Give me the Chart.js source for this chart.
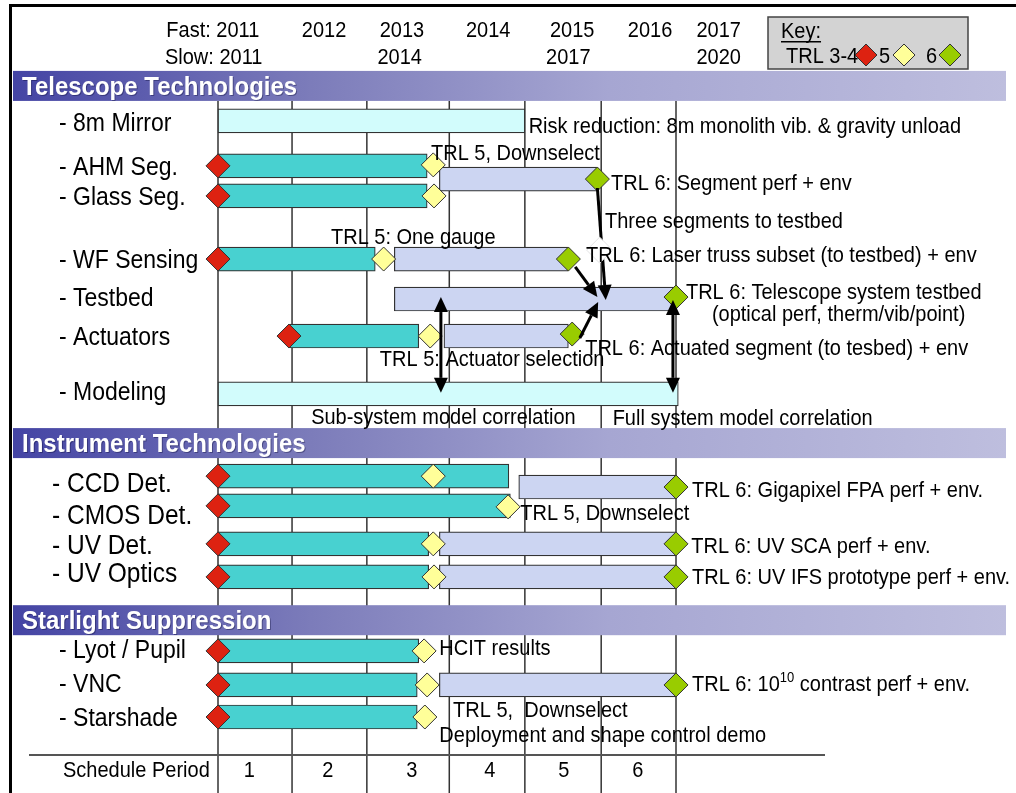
<!DOCTYPE html>
<html><head><meta charset="utf-8">
<script src="https://cdn.jsdelivr.net/npm/chart.js@4.4.1/dist/chart.umd.min.js"></script>
<style>html,body{margin:0;padding:0;background:#fff}canvas{display:block}</style>
</head><body>
<canvas id="c" width="1016" height="793"></canvas>
<script>
const FONT = '"Liberation Sans", Arial, Helvetica, sans-serif';

// ---------- data ----------
const sections = ['Telescope Technologies', 'Instrument Technologies', 'Starlight Suppression'];
const sectionRows = [2.60, 13.41, 18.77];

const taskLabels = ['- 8m Mirror', '- AHM Seg.', '- Glass Seg.', '- WF Sensing', '- Testbed', '- Actuators', '- Modeling',
  '- CCD Det.', '- CMOS Det.', '- UV Det.', '- UV Optics',
  '- Lyot / Pupil', '- VNC', '- Starshade'];
const taskSection = [0, 0, 0, 0, 0, 0, 0, 1, 1, 1, 1, 2, 2, 2];
const taskLabelRows = [3.72, 5.05, 5.96, 7.84, 8.99, 10.17, 11.86, 14.62, 15.59, 16.49, 17.34, 19.67, 20.70, 21.73];

const gridPeriods = [0, 0.97, 1.95, 3.03, 4.02, 5.02, 6.0];
const periodLabels = ['1', '2', '3', '4', '5', '6'];
const periodLabelPos = [0.41, 1.44, 2.54, 3.56, 4.53, 5.50];
const fastYears = ['2011', '2012', '2013', '2014', '2015', '2016', '2017'];
const fastYearPos = [0.26, 1.39, 2.41, 3.54, 4.64, 5.66, 6.56];
const slowYears = ['2011', '2014', '2017', '2020'];
const slowYearPos = [0.30, 2.38, 4.59, 6.56];

// development bars (TRL 3-4 -> 5)
const devBars = [
  {y: 5.02, from: 0, to: 2.74}, {y: 5.93, from: 0, to: 2.74}, {y: 7.84, from: 0, to: 2.06},
  {y: 10.17, from: 0.94, to: 2.63}, {y: 14.41, from: 0, to: 3.81}, {y: 15.31, from: 0, to: 3.83},
  {y: 16.46, from: 0, to: 2.76}, {y: 17.46, from: 0, to: 2.76}, {y: 19.70, from: 0, to: 2.63},
  {y: 20.73, from: 0, to: 2.61}, {y: 21.70, from: 0, to: 2.61}
];
// qualification bars (TRL 5 -> 6)
const qualBars = [
  {y: 5.42, from: 2.90, to: 4.97}, {y: 7.84, from: 2.31, to: 4.59}, {y: 9.05, from: 2.31, to: 5.99},
  {y: 10.17, from: 2.96, to: 4.59}, {y: 14.74, from: 3.94, to: 6.0}, {y: 16.46, from: 2.90, to: 6.0},
  {y: 17.46, from: 2.90, to: 6.0}, {y: 20.73, from: 2.90, to: 6.0}
];
// other activities
const otherBars = [
  {y: 3.66, from: 0, to: 4.02}, {y: 11.92, from: 0, to: 6.03}
];
// milestones
const trl34Points = [
  {x: 0, y: 5.02}, {x: 0, y: 5.93}, {x: 0, y: 7.84}, {x: 0.93, y: 10.17}, {x: 0, y: 14.41}, {x: 0, y: 15.31},
  {x: 0, y: 16.46}, {x: 0, y: 17.46}, {x: 0, y: 19.70}, {x: 0, y: 20.73}, {x: 0, y: 21.70}
];
const trl5Points = [
  {x: 2.82, y: 4.99}, {x: 2.83, y: 5.93}, {x: 2.17, y: 7.84}, {x: 2.78, y: 10.17}, {x: 2.82, y: 14.41},
  {x: 3.80, y: 15.34}, {x: 2.82, y: 16.46}, {x: 2.83, y: 17.46}, {x: 2.70, y: 19.70}, {x: 2.74, y: 20.73},
  {x: 2.71, y: 21.70}
];
const trl6Points = [
  {x: 4.97, y: 5.42}, {x: 4.59, y: 7.84}, {x: 6.0, y: 8.99}, {x: 4.64, y: 10.11}, {x: 6.0, y: 14.74},
  {x: 6.0, y: 16.46}, {x: 6.0, y: 17.46}, {x: 6.0, y: 20.73}
];

// annotations: text, x (period units), y (row units)
const notes = [
  ['Risk reduction: 8m monolith vib. & gravity unload', 4.07, 3.81],
  ['TRL 5, Downselect', 2.79, 4.60],
  ['TRL 6: Segment perf + env', 5.15, 5.51],
  ['Three segments to testbed', 5.07, 6.66],
  ['TRL 5: One gauge', 1.48, 7.17],
  ['TRL 6: Laser truss subset (to testbed) + env', 4.82, 7.69],
  ['TRL 6: Telescope system testbed', 6.13, 8.81],
  ['(optical perf, therm/vib/point)', 6.47, 9.50],
  ['TRL 5: Actuator selection', 2.12, 10.84],
  ['TRL 6: Actuated segment (to tesbed) + env', 4.81, 10.50],
  ['Sub-system model correlation', 1.22, 12.59],
  ['Full system model correlation', 5.17, 12.62],
  ['TRL 6: Gigapixel FPA perf + env.', 6.21, 14.80],
  ['TRL 5, Downselect', 3.96, 15.50],
  ['TRL 6: UV SCA perf + env.', 6.20, 16.50],
  ['TRL 6: UV IFS prototype perf + env.', 6.21, 17.46],
  ['HCIT results', 2.90, 19.58],
  ['TRL 6: 10|10| contrast perf + env.', 6.21, 20.67],
  ['TRL 5,  Downselect', 3.08, 21.46],
  ['Deployment and shape control demo', 2.90, 22.22]
];
// arrows: from, to (period units, row units), double-headed?
const arrows = [
  {from: [4.97, 5.69], to: [5.08, 9.08], both: false},
  {from: [4.68, 8.08], to: [4.97, 8.99], both: false},
  {from: [4.74, 10.23], to: [4.98, 9.14], both: false},
  {from: [2.92, 8.99], to: [2.92, 11.89], both: true},
  {from: [5.96, 9.08], to: [5.96, 11.89], both: true}
];
const periodAxisRow = 22.85;
const periodLabelRow = 23.30;

const COLORS = {dev: '#48d1d0', qual: '#ccd5f2', other: '#d2fcfc', trl34: '#dd2211', trl5: '#ffff99', trl6: '#99cc00', edge: '#333'};

// ---------- build datasets ----------
const barData = [], barColors = [];
[[devBars, COLORS.dev], [qualBars, COLORS.qual], [otherBars, COLORS.other]].forEach(([arr, col]) => {
  arr.forEach(b => { barData.push({x: [b.from, b.to], y: b.y}); barColors.push(col); });
});

const TEXT_DY = 1.5, TEXT_SY = 1.1;
function txt(ctx, t, x, y) {
  ctx.save();
  ctx.translate(x, y + TEXT_DY);
  ctx.scale(1, TEXT_SY);
  ctx.fillText(t, 0, 0);
  ctx.restore();
}
function diamond(ctx, x, y, r, fill) {
  ctx.beginPath();
  ctx.moveTo(x, y - r); ctx.lineTo(x + r, y); ctx.lineTo(x, y + r); ctx.lineTo(x - r, y); ctx.closePath();
  ctx.fillStyle = fill; ctx.fill();
  ctx.strokeStyle = COLORS.edge; ctx.lineWidth = 1; ctx.stroke();
}
function head(ctx, x1, y1, x2, y2) {
  const a = Math.atan2(y2 - y1, x2 - x1), L = 15, W = 7;
  const bx = x2 - L * Math.cos(a), by = y2 - L * Math.sin(a);
  ctx.beginPath();
  ctx.moveTo(x2, y2);
  ctx.lineTo(bx + W * Math.sin(a), by - W * Math.cos(a));
  ctx.lineTo(bx - W * Math.sin(a), by + W * Math.cos(a));
  ctx.closePath(); ctx.fill();
  return [bx, by];
}

const roadmap = {
  id: 'roadmap',
  beforeDraw(chart) {
    const ctx = chart.ctx;
    ctx.save(); ctx.fillStyle = '#fff'; ctx.fillRect(0, 0, chart.width, chart.height); ctx.restore();
  },
  beforeDatasetsDraw(chart) {
    const ctx = chart.ctx;
    const X = v => chart.scales.x.getPixelForValue(v), Y = v => chart.scales.y.getPixelForValue(v);
    ctx.save();
    // frame
    ctx.fillStyle = '#000';
    ctx.fillRect(9, 4, chart.width - 9, 3);
    ctx.fillRect(9, 4, 3, chart.height - 4);
    // gridlines
    ctx.strokeStyle = '#333'; ctx.lineWidth = 1.5;
    const gTop = Y(sectionRows[0]) + 15;
    gridPeriods.forEach(g => {
      const x = X(g);
      ctx.beginPath(); ctx.moveTo(x, gTop); ctx.lineTo(x, chart.height); ctx.stroke();
    });
    // section headers
    sections.forEach((s, i) => {
      const yc = Y(sectionRows[i]);
      const gr = ctx.createLinearGradient(13, 0, 1006, 0);
      gr.addColorStop(0, '#4444a4'); gr.addColorStop(0.3, '#7c7cba'); gr.addColorStop(0.6, '#a6a6d2'); gr.addColorStop(1, '#bebede');
      ctx.fillStyle = gr; ctx.fillRect(13, yc - 15, 993, 30);
      ctx.font = 'bold 24px ' + FONT; ctx.textBaseline = 'middle'; ctx.textAlign = 'left';
      ctx.fillStyle = 'rgba(0,0,40,0.35)'; txt(ctx, s, 23, yc + 1);
      ctx.fillStyle = '#fff'; txt(ctx, s, 22, yc);
    });
    // year header
    ctx.fillStyle = '#000'; ctx.font = '20px ' + FONT; ctx.textBaseline = 'middle';
    ctx.textAlign = 'center';
    fastYears.forEach((t, i) => txt(ctx, t, X(fastYearPos[i]), 29));
    slowYears.forEach((t, i) => txt(ctx, t, X(slowYearPos[i]), 56));
    ctx.textAlign = 'right';
    txt(ctx, 'Fast: ', X(fastYearPos[0]) - ctx.measureText(fastYears[0]).width / 2, 29);
    txt(ctx, 'Slow: ', X(slowYearPos[0]) - ctx.measureText(slowYears[0]).width / 2, 56);
    // key box
    ctx.fillStyle = '#d3d3d3'; ctx.fillRect(768, 17, 200, 52);
    ctx.strokeStyle = '#444'; ctx.lineWidth = 1.5; ctx.strokeRect(768, 17, 200, 52);
    ctx.fillStyle = '#000'; ctx.textAlign = 'left'; ctx.font = '20px ' + FONT;
    txt(ctx, 'Key:', 781, 30);
    ctx.fillRect(781, 41, ctx.measureText('Key:').width, 1.5);
    txt(ctx, 'TRL 3-4', 786, 55);
    txt(ctx, '5', 879, 55);
    txt(ctx, '6', 926, 55);
    diamond(ctx, 866, 55, 11, COLORS.trl34);
    diamond(ctx, 904, 55, 11, COLORS.trl5);
    diamond(ctx, 950, 55, 11, COLORS.trl6);
    // task labels
    ctx.fillStyle = '#000';
    const labelX = [59, 52, 59], labelSize = [23, 24.5, 23];
    taskLabels.forEach((t, i) => {
      const s = taskSection[i];
      ctx.font = labelSize[s] + 'px ' + FONT;
      txt(ctx, t, labelX[s], Y(taskLabelRows[i]));
    });
    // schedule period axis
    const ay = Y(periodAxisRow);
    ctx.strokeStyle = '#555'; ctx.lineWidth = 2;
    ctx.beginPath(); ctx.moveTo(29, ay); ctx.lineTo(825, ay); ctx.stroke();
    ctx.font = '20px ' + FONT; ctx.fillStyle = '#000';
    ctx.textAlign = 'left'; txt(ctx, 'Schedule Period', 63, Y(periodLabelRow));
    ctx.textAlign = 'center';
    periodLabels.forEach((t, i) => txt(ctx, t, X(periodLabelPos[i]), Y(periodLabelRow)));
    ctx.restore();
  },
  afterDatasetsDraw(chart) {
    const ctx = chart.ctx;
    const X = v => chart.scales.x.getPixelForValue(v), Y = v => chart.scales.y.getPixelForValue(v);
    ctx.save();
    // arrows
    ctx.strokeStyle = '#000'; ctx.fillStyle = '#000'; ctx.lineWidth = 3; ctx.lineCap = 'butt';
    arrows.forEach(a => {
      const x1 = X(a.from[0]), y1 = Y(a.from[1]), x2 = X(a.to[0]), y2 = Y(a.to[1]);
      const e = head(ctx, x1, y1, x2, y2);
      let s = [x1, y1];
      if (a.both) s = head(ctx, x2, y2, x1, y1);
      ctx.beginPath(); ctx.moveTo(s[0], s[1]); ctx.lineTo(e[0], e[1]); ctx.stroke();
    });
    // blank milestone outline interrupting the arrow
    ctx.beginPath();
    const wx = X(5.0), wy = Y(7.57);
    ctx.moveTo(wx, wy - 13); ctx.lineTo(wx + 13, wy); ctx.lineTo(wx, wy + 13); ctx.lineTo(wx - 13, wy); ctx.closePath();
    ctx.fillStyle = '#fff'; ctx.fill(); ctx.strokeStyle = '#e4e4e4'; ctx.lineWidth = 1; ctx.stroke();
    // annotations
    ctx.fillStyle = '#000'; ctx.textAlign = 'left'; ctx.textBaseline = 'middle';
    notes.forEach(([t, x, y]) => {
      const px = X(x), py = Y(y);
      ctx.font = '20px ' + FONT;
      if (t.indexOf('|') >= 0) {
        const [a, sup, b] = t.split('|');
        txt(ctx, a, px, py);
        let cx = px + ctx.measureText(a).width;
        ctx.font = '13px ' + FONT;
        txt(ctx, sup, cx, py - 6);
        cx += ctx.measureText(sup).width;
        ctx.font = '20px ' + FONT;
        txt(ctx, b, cx, py);
      } else {
        txt(ctx, t, px, py);
      }
    });
    ctx.restore();
  }
};

new Chart(document.getElementById('c'), {
  type: 'bar',
  data: {
    datasets: [
      {type: 'bar', data: barData, backgroundColor: barColors, borderColor: COLORS.edge, borderWidth: 1.2,
       borderSkipped: false, barThickness: 24, clip: false, order: 3},
      {type: 'scatter', data: trl34Points, pointStyle: 'rectRot', radius: 12, backgroundColor: COLORS.trl34,
       borderColor: COLORS.edge, borderWidth: 1, clip: false, order: 1},
      {type: 'scatter', data: trl5Points, pointStyle: 'rectRot', radius: 12, backgroundColor: COLORS.trl5,
       borderColor: COLORS.edge, borderWidth: 1, clip: false, order: 1},
      {type: 'scatter', data: trl6Points, pointStyle: 'rectRot', radius: 12, backgroundColor: COLORS.trl6,
       borderColor: COLORS.edge, borderWidth: 1, clip: false, order: 1}
    ]
  },
  options: {
    indexAxis: 'y',
    responsive: false,
    animation: false,
    devicePixelRatio: 1,
    events: [],
    layout: {autoPadding: false, padding: {left: 218, right: 340, top: 0, bottom: 0}},
    plugins: {legend: {display: false}, tooltip: {enabled: false}},
    scales: {
      x: {type: 'linear', min: 0, max: 6, display: false, stacked: false, offset: false},
      y: {type: 'linear', min: 0, max: 24, reverse: true, display: false, offset: false, grid: {offset: false}}
    }
  },
  plugins: [roadmap]
});
</script>
</body></html>
